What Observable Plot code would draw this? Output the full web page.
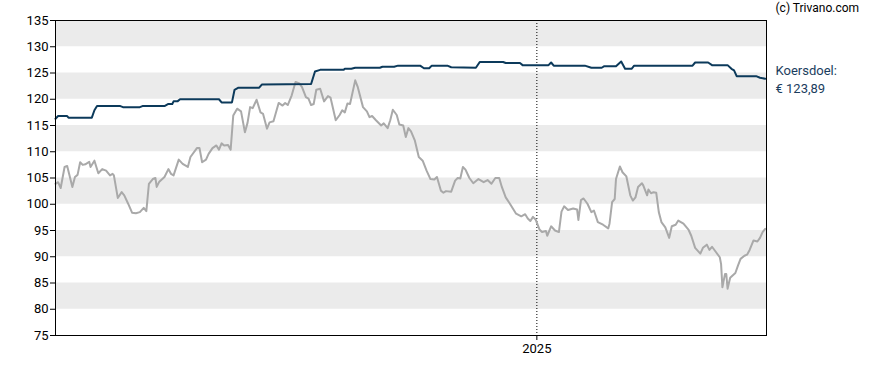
<!DOCTYPE html>
<html>
<head>
<meta charset="utf-8">
<script src="https://cdn.jsdelivr.net/npm/d3@7"></script>
<script src="https://cdn.jsdelivr.net/npm/@observablehq/plot@0.6"></script>
<style>
  html, body { margin: 0; padding: 0; background: #fff; }
  #chart { width: 888px; height: 370px; }
</style>
</head>
<body>
<div id="chart"></div>
<script>
const priceDates = [
  "2023-12-27","2023-12-29","2023-12-31","2024-01-03","2024-01-05","2024-01-09","2024-01-11","2024-01-13","2024-01-15","2024-01-17",
  "2024-01-19","2024-01-22","2024-01-23","2024-01-26","2024-01-29","2024-02-01","2024-02-04","2024-02-07","2024-02-09","2024-02-10",
  "2024-02-13","2024-02-16","2024-02-18","2024-02-21","2024-02-24","2024-02-27","2024-03-01","2024-03-04","2024-03-06","2024-03-08",
  "2024-03-11","2024-03-13","2024-03-14","2024-03-16","2024-03-20","2024-03-23","2024-03-25","2024-03-27","2024-03-31","2024-04-03",
  "2024-04-07","2024-04-09","2024-04-14","2024-04-16","2024-04-18","2024-04-21","2024-04-23","2024-04-26","2024-04-29","2024-05-01",
  "2024-05-03","2024-05-05","2024-05-08","2024-05-10","2024-05-12","2024-05-15","2024-05-18","2024-05-21","2024-05-23","2024-05-25",
  "2024-05-27","2024-05-30","2024-06-02","2024-06-04","2024-06-07","2024-06-09","2024-06-12","2024-06-16","2024-06-19","2024-06-21",
  "2024-06-23","2024-06-26","2024-06-29","2024-07-02","2024-07-04","2024-07-07","2024-07-09","2024-07-11","2024-07-13","2024-07-15",
  "2024-07-18","2024-07-21","2024-07-24","2024-07-26","2024-07-30","2024-08-02","2024-08-04","2024-08-06","2024-08-08","2024-08-10",
  "2024-08-14","2024-08-16","2024-08-20","2024-08-23","2024-08-25","2024-08-27","2024-08-30","2024-09-03","2024-09-05","2024-09-08",
  "2024-09-10","2024-09-12","2024-09-15","2024-09-17","2024-09-20","2024-09-22","2024-09-24","2024-09-26","2024-09-29","2024-10-02",
  "2024-10-05","2024-10-08","2024-10-11","2024-10-14","2024-10-16","2024-10-19","2024-10-21","2024-10-23","2024-10-27","2024-10-30",
  "2024-11-01","2024-11-03","2024-11-05","2024-11-07","2024-11-10","2024-11-13","2024-11-17","2024-11-21","2024-11-24","2024-11-27",
  "2024-11-30","2024-12-03","2024-12-05","2024-12-08","2024-12-11","2024-12-16","2024-12-20","2024-12-23","2024-12-25","2024-12-27",
  "2024-12-29","2024-12-31","2025-01-03","2025-01-05","2025-01-08","2025-01-09","2025-01-12","2025-01-15","2025-01-18","2025-01-20",
  "2025-01-22","2025-01-25","2025-01-29","2025-02-01","2025-02-02","2025-02-04","2025-02-06","2025-02-09","2025-02-12","2025-02-14",
  "2025-02-17","2025-02-21","2025-02-25","2025-02-26","2025-02-28","2025-03-02","2025-03-03","2025-03-06","2025-03-08","2025-03-11",
  "2025-03-14","2025-03-16","2025-03-18","2025-03-20","2025-03-23","2025-03-24","2025-03-27","2025-03-28","2025-03-30","2025-04-01",
  "2025-04-03","2025-04-05","2025-04-07","2025-04-10","2025-04-13","2025-04-15","2025-04-18","2025-04-20","2025-04-24","2025-04-28",
  "2025-04-30","2025-05-03","2025-05-07","2025-05-09","2025-05-12","2025-05-14","2025-05-16","2025-05-19","2025-05-22","2025-05-23",
  "2025-05-24","2025-05-26","2025-05-27","2025-05-28","2025-05-30","2025-06-03","2025-06-05","2025-06-07","2025-06-10","2025-06-12",
  "2025-06-14","2025-06-17","2025-06-20","2025-06-22","2025-06-24","2025-06-26"
];
const priceValues = [
  103.9,104.2,103.1,107.1,107.3,103.3,105.2,105.6,108.0,107.5,
  107.6,108.1,107.1,108.3,105.9,106.7,106.4,105.5,105.8,105.5,
  101.2,102.3,101.7,100.1,98.4,98.3,98.5,99.3,98.7,103.9,
  104.8,105.0,103.3,104.3,105.2,106.7,105.8,105.5,108.5,107.7,
  107.1,109.0,110.7,110.7,108.0,108.5,109.6,110.7,111.2,110.4,
  111.6,111.2,111.3,110.4,116.9,118.2,117.7,113.7,115.5,118.5,
  118.3,119.9,117.5,117.2,114.4,115.6,115.8,119.3,118.8,119.3,
  118.9,120.7,123.3,123.0,122.3,120.4,120.1,118.9,119.1,121.8,
  122.0,119.6,120.6,120.3,116.0,117.0,117.9,117.5,119.2,119.1,
  123.6,122.3,118.5,117.7,116.6,116.8,116.0,115.0,115.4,114.5,
  116.0,118.0,117.0,115.2,115.0,112.8,114.5,113.9,112.1,109.0,
  108.3,106.4,104.8,104.7,105.2,102.6,102.2,102.5,102.4,104.5,
  105.0,104.9,107.1,106.6,105.0,104.0,104.8,104.2,104.6,103.9,
  105.0,105.0,103.3,101.3,100.2,98.2,97.7,98.1,97.3,96.8,
  97.6,97.1,95.2,94.7,94.9,94.0,95.8,95.0,94.7,98.6,
  99.6,98.9,99.2,99.0,97.0,100.8,101.1,100.1,98.5,98.8,
  96.6,96.1,95.4,96.3,100.4,101.0,104.8,107.2,106.1,105.3,
  101.7,100.7,101.3,103.3,104.0,103.6,101.7,102.8,102.1,102.3,
  102.2,98.5,96.6,95.6,93.6,95.8,96.1,96.9,96.3,95.1,
  94.0,91.7,90.6,91.7,92.3,91.3,91.9,90.9,89.9,88.6,
  84.2,86.7,86.7,83.9,86.0,86.9,88.3,89.6,90.2,90.4,
  91.3,93.1,92.9,93.6,94.7,95.3
];
const targetDates = [
  "2023-12-27","2023-12-29","2024-01-05","2024-01-06","2024-01-24","2024-01-26","2024-01-28","2024-02-15","2024-02-17","2024-03-01",
  "2024-03-03","2024-03-20","2024-03-23","2024-03-26","2024-03-27","2024-03-30","2024-04-01","2024-05-01","2024-05-03","2024-05-11",
  "2024-05-13","2024-05-16","2024-06-01","2024-06-03","2024-07-11","2024-07-14","2024-07-18","2024-08-05","2024-08-06","2024-08-11",
  "2024-08-14","2024-09-02","2024-09-04","2024-09-13","2024-09-16","2024-10-03","2024-10-06","2024-10-10","2024-10-12","2024-10-24",
  "2024-10-27","2024-11-15","2024-11-18","2024-12-06","2024-12-08","2024-12-19","2024-12-21","2025-01-10","2025-01-12","2025-01-14",
  "2025-02-07","2025-02-12","2025-02-20","2025-02-22","2025-03-03","2025-03-07","2025-03-10","2025-03-15","2025-03-17","2025-05-01",
  "2025-05-03","2025-05-13","2025-05-16","2025-05-28","2025-05-31","2025-06-02","2025-06-04","2025-06-19","2025-06-22","2025-06-26"
];
const targetValues = [
  116.3,116.8,116.8,116.5,116.5,117.9,118.7,118.7,118.5,118.5,
  118.7,118.7,119.1,119.1,119.6,119.6,120.0,120.0,119.4,119.4,
  121.8,122.2,122.2,122.8,122.9,125.3,125.6,125.6,125.8,125.8,
  126.0,126.0,126.2,126.2,126.4,126.4,125.9,125.9,126.4,126.4,
  126.1,126.0,127.1,127.1,126.9,126.9,126.5,126.5,127.0,126.4,
  126.4,126.0,126.0,126.3,126.3,127.2,125.8,125.8,126.4,126.4,
  127.0,127.0,126.5,126.5,125.8,125.5,124.4,124.4,124.1,123.89
];
const bandStarts = [80, 90, 100, 110, 120, 130];
const bandEnds = [85, 95, 105, 115, 125, 135];
const yTicks = [75, 80, 85, 90, 95, 100, 105, 110, 115, 120, 125, 130, 135];
const yearTicks = ["2025-01-01"];
const xStart = "2023-12-27";
const xEnd = "2025-06-27";
const latestTarget = 123.89;
const targetLabel = "Koersdoel:\n€ 123,89";
const copyright = "(c) Trivano.com";

const price = priceDates.map((d, i) => ({date: new Date(d), value: priceValues[i]}));
const target = targetDates.map((d, i) => ({date: new Date(d), value: targetValues[i]}));
const bands = bandStarts.map((s, i) => ({y1: s, y2: bandEnds[i]}));
const yearDates = yearTicks.map(d => new Date(d));

const chart = Plot.plot({
  width: 888,
  height: 370,
  marginLeft: 55,
  marginRight: 122,
  marginTop: 20,
  marginBottom: 35,
  style: {fontFamily: "Roboto, sans-serif", fontSize: "13px", color: "#000", background: "#fff", overflow: "visible"},
  x: {type: "utc", domain: [new Date(xStart), new Date(xEnd)]},
  y: {domain: [75, 135]},
  marks: [
    Plot.rect(bands, {y1: "y1", y2: "y2", fill: "#ebebeb"}),
    Plot.ruleX(yearDates, {stroke: "#000", strokeWidth: 1, strokeDasharray: "1,2"}),
    Plot.line(price, {x: "date", y: "value", stroke: "#a9a9a9", strokeWidth: 2, curve: "linear"}),
    Plot.line(target, {x: "date", y: "value", stroke: "#0c3a5b", strokeWidth: 2, curve: "linear"}),
    Plot.frame({stroke: "#000", strokeWidth: 1}),
    Plot.axisY({ticks: yTicks, tickSize: 5, tickPadding: 2, label: null, fontSize: 13}),
    Plot.axisX({ticks: yearDates, tickSize: 5, tickPadding: 3, tickFormat: d3.utcFormat("%Y"), label: null, fontSize: 13}),
    Plot.text([latestTarget], {x: () => new Date(xEnd), y: d => d, text: () => targetLabel, textAnchor: "start", dx: 9, dy: -1, lineHeight: 1.4, fill: "#1b3d5e", fontSize: 13}),
    Plot.text([copyright], {frameAnchor: "top-right", text: d => d, textAnchor: "start", lineAnchor: "middle", dx: 9, dy: -12, fill: "#000", fontSize: 12})
  ]
});
document.getElementById("chart").appendChild(chart);
</script>
</body>
</html>
